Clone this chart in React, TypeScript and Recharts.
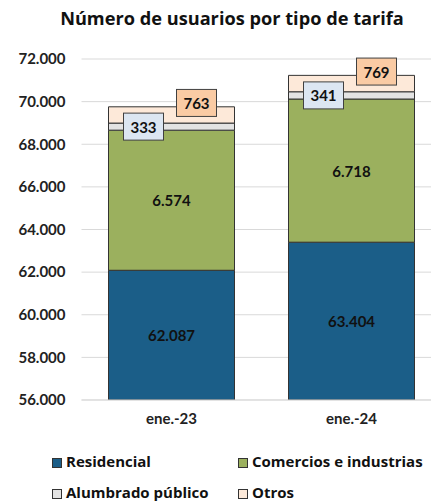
import React from "react";
import { BarChart, Bar, XAxis, YAxis, CartesianGrid, Legend, LabelList } from "recharts";

const categories = ["ene.-23", "ene.-24"];
const residencial = [62087, 63404];
const comercios = [6574, 6718];
const alumbrado = [333, 341];
const otros = [763, 769];
const yTicks = [56000, 58000, 60000, 62000, 64000, 66000, 68000, 70000, 72000];

const seriesNames = ["Residencial", "Comercios e industrias", "Alumbrado público", "Otros"];
const colors = ["#1B5E88", "#9BB05E", "#E3E3E3", "#FDE9D9"];

const data = categories.map((c, i) => ({
  cat: c,
  residencial: residencial[i],
  comercios: comercios[i],
  alumbrado: alumbrado[i],
  otros: otros[i],
}));

const FONT = "Lato, 'Open Sans', sans-serif";
const FONT2 = "'Open Sans', Lato, sans-serif";

const fmt = (v: number) => {
  const s = Math.round(v).toString();
  return s.replace(/\B(?=(\d{3})+(?!\d))/g, ".");
};

const CenterLabel = (props: any) => {
  const { x, y, width, height, value } = props;
  return (
    <text
      x={x + width / 2}
      y={y + height / 2}
      textAnchor="middle"
      dominantBaseline="central"
      fontFamily={FONT}
      fontWeight={700}
      fontSize={15}
      fill="#111"
    >
      {fmt(value)}
    </text>
  );
};

const makeBoxLabel = (fill: string, dx: number, dy: number) => (props: any) => {
  const { x, y, width, height, value } = props;
  const cx = x + dx;
  const cy = y + height / 2 + dy;
  const bw = 40;
  const bh = 27;
  return (
    <g>
      <rect x={cx - bw / 2} y={cy - bh / 2} width={bw} height={bh} fill={fill} stroke="#404040" strokeWidth={1} />
      <text
        x={cx}
        y={cy}
        textAnchor="middle"
        dominantBaseline="central"
        fontFamily={FONT}
        fontWeight={700}
        fontSize={15}
        fill="#111"
      >
        {fmt(value)}
      </text>
    </g>
  );
};

const AlumbradoLabel = makeBoxLabel("#DCE6F2", 35, 0);
const OtrosLabel = makeBoxLabel("#FACBA4", 88, -12);

const LegendContent = () => {
  const pos = [
    { left: 52, top: 12 },
    { left: 238, top: 12 },
    { left: 52, top: 43 },
    { left: 238, top: 43 },
  ];
  return (
    <div style={{ position: "relative", width: 431, height: 60 }}>
      {seriesNames.map((n, i) => (
        <div
          key={n}
          style={{
            position: "absolute",
            left: pos[i].left,
            top: pos[i].top,
            display: "flex",
            alignItems: "center",
            fontFamily: FONT2,
            fontWeight: 700,
            fontSize: 15,
            lineHeight: "18px",
            color: "#111",
            whiteSpace: "nowrap",
          }}
        >
          <span
            style={{
              display: "inline-block",
              width: 8,
              height: 8,
              background: colors[i],
              border: "1px solid #333",
              marginRight: 4,
              marginTop: 3,
            }}
          />
          <span>{n}</span>
        </div>
      ))}
    </div>
  );
};

export default function App() {
  return (
    <div style={{ position: "fixed", left: 0, top: 0, width: 431, height: 501, overflow: "hidden", background: "#fff" }}>
      <div
        style={{
          position: "absolute",
          left: 0,
          top: 6,
          width: 464,
          textAlign: "center",
          fontFamily: FONT2,
          fontWeight: 700,
          fontSize: 18.2,
          color: "#111",
          lineHeight: "24px",
        }}
      >
        Número de usuarios por tipo de tarifa
      </div>
      <BarChart
        width={450}
        height={501}
        data={data}
        margin={{ top: 59, right: 8.5, left: 0, bottom: 1 }}
        barCategoryGap="15%"
      >
        <CartesianGrid vertical={false} stroke="#D9D9D9" strokeWidth={1} />
        <XAxis
          dataKey="cat"
          height={40}
          tickSize={0}
          tickMargin={13}
          axisLine={{ stroke: "#D9D9D9" }}
          tick={{ fontFamily: FONT, fontWeight: 700, fontSize: 15, fill: "#222" }}
        />
        <YAxis
          width={81.5}
          domain={[56000, 72000]}
          ticks={yTicks}
          allowDataOverflow
          tickSize={0}
          tickMargin={16}
          axisLine={false}
          tickFormatter={(v: number) => fmt(v)}
          tick={{ fontFamily: FONT, fontWeight: 700, fontSize: 15, fill: "#222" }}
        />
        <Legend
          verticalAlign="bottom"
          wrapperStyle={{ left: 0, width: 431, height: 60, bottom: 1 }}
          content={<LegendContent />}
        />
        <Bar dataKey="residencial" stackId="a" fill={colors[0]} stroke="#333" strokeWidth={1} isAnimationActive={false}>
          <LabelList dataKey="residencial" content={<CenterLabel />} />
        </Bar>
        <Bar dataKey="comercios" stackId="a" fill={colors[1]} stroke="#333" strokeWidth={1} isAnimationActive={false}>
          <LabelList dataKey="comercios" content={<CenterLabel />} />
        </Bar>
        <Bar dataKey="alumbrado" stackId="a" fill={colors[2]} stroke="#333" strokeWidth={1} isAnimationActive={false}>
          <LabelList dataKey="alumbrado" content={<AlumbradoLabel />} />
        </Bar>
        <Bar dataKey="otros" stackId="a" fill={colors[3]} stroke="#333" strokeWidth={1} isAnimationActive={false}>
          <LabelList dataKey="otros" content={<OtrosLabel />} />
        </Bar>
      </BarChart>
    </div>
  );
}
